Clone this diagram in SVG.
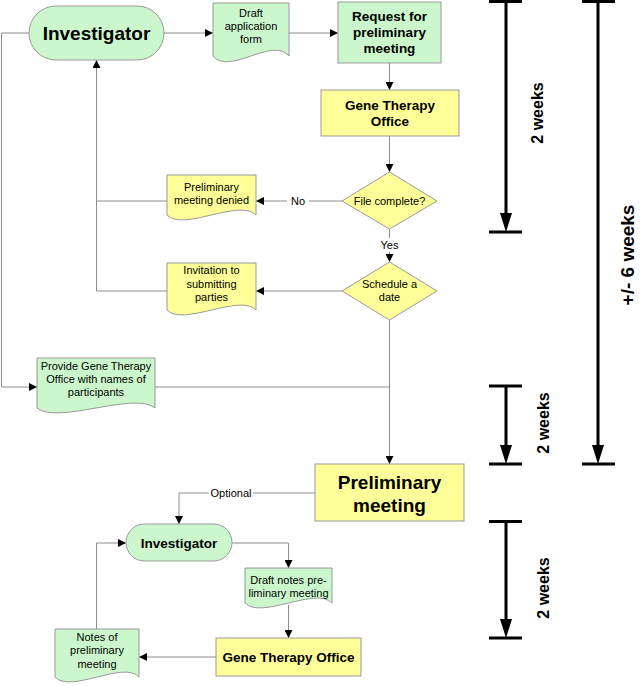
<svg xmlns="http://www.w3.org/2000/svg" width="640" height="686" viewBox="0 0 640 686">
<style>
text{font-family:"Liberation Sans",Arial,sans-serif;fill:#000;text-anchor:middle}
.g{fill:#ccf7cc;stroke:#999;stroke-width:1}
.y{fill:#ffff99;stroke:#999;stroke-width:1}
.c{fill:none;stroke:#8c8c8c;stroke-width:1}
.s{font-size:11px}
.m{font-size:13.5px;font-weight:bold}
.l{font-size:19px;font-weight:bold}
.t{stroke:#000;stroke-width:3;fill:none}
.tl{font-size:16px;font-weight:bold}
</style>
<defs>
<marker id="a" markerWidth="8" markerHeight="8" refX="8" refY="4" orient="auto" markerUnits="userSpaceOnUse">
<path d="M0,0 L8,4 L0,8 Z" fill="#000"/>
</marker>
</defs>

<g id="connectors">
<path class="c" d="M29,33 H1.5 V387 H37" marker-end="url(#a)"/>
<path class="c" d="M164,33 H213" marker-end="url(#a)"/>
<path class="c" d="M289,33 H338" marker-end="url(#a)"/>
<path class="c" d="M389.5,63 V90" marker-end="url(#a)"/>
<path class="c" d="M389.5,136 V172" marker-end="url(#a)"/>
<path class="c" d="M342,201 H256" marker-end="url(#a)"/>
<path class="c" d="M167,201 H96.5 V60" marker-end="url(#a)"/>
<path class="c" d="M389.5,229 V262" marker-end="url(#a)"/>
<path class="c" d="M342,291 H256" marker-end="url(#a)"/>
<path class="c" d="M167,291 H96.5 V201"/>
<path class="c" d="M389.5,320 V464" marker-end="url(#a)"/>
<path class="c" d="M155,387 H389.5"/>
<path class="c" d="M315,493 H179 V524" marker-end="url(#a)"/>
<path class="c" d="M232,543 H288.5 V568" marker-end="url(#a)"/>
<path class="c" d="M288.5,605 V638" marker-end="url(#a)"/>
<path class="c" d="M216,657 H139" marker-end="url(#a)"/>
<path class="c" d="M96.5,629 V543 H126" marker-end="url(#a)"/>
<rect x="287" y="194" width="22" height="14" fill="#fff"/>
<text class="s" x="298" y="205">No</text>
<rect x="377" y="238" width="25" height="14" fill="#fff"/>
<text class="s" x="389.5" y="249">Yes</text>
<rect x="209" y="486" width="44" height="14" fill="#fff"/>
<text class="s" x="231" y="497">Optional</text>
</g>

<g id="investigator1">
<rect class="g" x="29" y="6" width="135" height="54" rx="27"/>
<text class="l" x="96.5" y="40">Investigator</text>
</g>

<g id="draft-application">
<path class="g" d="M213,3 H289 V56 C273,36 229,76 213,56 Z"/>
<text class="s" x="251" y="17">Draft</text>
<text class="s" x="251" y="30">application</text>
<text class="s" x="251" y="43">form</text>
</g>

<g id="request">
<rect class="g" x="338" y="2" width="103" height="61"/>
<text class="m" x="389.5" y="21">Request for</text>
<text class="m" x="389.5" y="37">preliminary</text>
<text class="m" x="389.5" y="53">meeting</text>
</g>

<g id="gto1">
<rect class="y" x="321" y="90" width="138" height="46"/>
<text class="m" x="390" y="110">Gene Therapy</text>
<text class="m" x="390" y="126">Office</text>
</g>

<g id="file-complete">
<polygon class="y" points="389.5,172 437,201 389.5,229 342,201"/>
<text class="s" x="389.5" y="205">File complete?</text>
</g>

<g id="denied">
<path class="y" d="M167,175 H256 V215 C240,198 183,232 167,215 Z"/>
<text class="s" x="211.5" y="191">Preliminary</text>
<text class="s" x="211.5" y="204">meeting denied</text>
</g>

<g id="schedule">
<polygon class="y" points="389.5,262 437,291 389.5,320 342,291"/>
<text class="s" x="389.5" y="288">Schedule a</text>
<text class="s" x="389.5" y="301">date</text>
</g>

<g id="invitation">
<path class="y" d="M167,263 H256 V310 C240,293 183,327 167,310 Z"/>
<text class="s" x="211.5" y="274">Invitation to</text>
<text class="s" x="211.5" y="287.5">submitting</text>
<text class="s" x="211.5" y="301">parties</text>
</g>

<g id="provide">
<path class="g" d="M37,358 H155 V408 C134,391 58,425 37,408 Z"/>
<text class="s" x="96" y="370">Provide Gene Therapy</text>
<text class="s" x="96" y="383">Office with names of</text>
<text class="s" x="96" y="396">participants</text>
</g>

<g id="preliminary-meeting">
<rect class="y" x="315" y="464" width="149" height="57"/>
<text class="l" x="389.5" y="489">Preliminary</text>
<text class="l" x="389.5" y="512">meeting</text>
</g>

<g id="investigator2">
<rect class="g" x="126" y="524" width="106" height="37" rx="18.5"/>
<text class="m" x="179" y="547.5">Investigator</text>
</g>

<g id="draft-notes">
<path class="g" d="M245,568 H332 V603 C316,586 261,620 245,603 Z"/>
<text class="s" x="288.5" y="584">Draft notes pre-</text>
<text class="s" x="288.5" y="597">liminary meeting</text>
</g>

<g id="gto2">
<rect class="y" x="216" y="638" width="145" height="38"/>
<text class="m" x="288.5" y="662">Gene Therapy Office</text>
</g>

<g id="notes">
<path class="g" d="M55,629 H139 V677 C124,660 70,694 55,677 Z"/>
<text class="s" x="97" y="641">Notes of</text>
<text class="s" x="97" y="654">preliminary</text>
<text class="s" x="97" y="667.5">meeting</text>
</g>

<g id="timeline">
<path class="t" d="M506,1.5 V216 M489,1.5 H522 M489,232 H522"/>
<polygon points="500,213 512,213 506,232"/>
<text class="tl" transform="translate(543,113) rotate(-90)">2 weeks</text>
<path class="t" d="M598,1.5 V448 M582,1.5 H615 M582,464 H615"/>
<polygon points="592,445 604,445 598,464"/>
<text class="tl" style="font-size:19px" transform="translate(634,255) rotate(-90)">+/- 6 weeks</text>
<path class="t" d="M506,386 V448 M489,386 H522 M489,464 H522"/>
<polygon points="500,445 512,445 506,464"/>
<text class="tl" transform="translate(549,423) rotate(-90)">2 weeks</text>
<path class="t" d="M506,521.5 V622 M489,521.5 H522 M489,638 H522"/>
<polygon points="500,619 512,619 506,638"/>
<text class="tl" transform="translate(549,588) rotate(-90)">2 weeks</text>
</g>
</svg>
